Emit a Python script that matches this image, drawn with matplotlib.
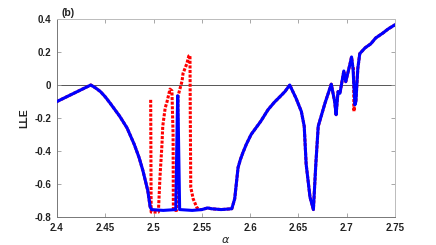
import numpy as np
import matplotlib
matplotlib.use("Agg")
import matplotlib.pyplot as plt

# curva azul (LLE)
alpha_azul = [2.400, 2.435, 2.440, 2.445, 2.450, 2.455, 2.460, 2.465, 2.4725, 2.480,
              2.485, 2.489, 2.4915, 2.494, 2.4965,
              2.498, 2.510, 2.523, 2.5245, 2.525, 2.5255, 2.527, 2.540, 2.550, 2.556,
              2.560, 2.570, 2.581, 2.584, 2.5875, 2.590, 2.5925, 2.596, 2.601, 2.606,
              2.611, 2.6185, 2.625, 2.631, 2.636,
              2.641, 2.6475, 2.653, 2.656, 2.658, 2.662, 2.6655, 2.668, 2.6705, 2.6775,
              2.684, 2.6875, 2.689, 2.691, 2.693, 2.697, 2.699, 2.7035, 2.705, 2.7065,
              2.7085, 2.7095, 2.7115, 2.7135, 2.719, 2.725, 2.730, 2.7375, 2.743, 2.750]
lle_azul = [-0.100, 0.000, -0.018, -0.040, -0.072, -0.110, -0.150, -0.190, -0.260, -0.360,
            -0.440, -0.520, -0.580, -0.640, -0.740,
            -0.755, -0.760, -0.755, -0.200, -0.065, -0.200, -0.755, -0.760, -0.755, -0.745,
            -0.750, -0.755, -0.750, -0.690, -0.500, -0.450, -0.410, -0.360, -0.300, -0.260,
            -0.220, -0.150, -0.105, -0.070, -0.040,
            0.000, -0.080, -0.160, -0.250, -0.480, -0.680, -0.755, -0.480, -0.250, -0.110,
            0.005, -0.100, -0.180, -0.040, -0.050, 0.085, 0.020, 0.130, 0.170, 0.100,
            -0.120, -0.100, 0.100, 0.190, 0.225, 0.250, 0.285, 0.315, 0.340, 0.365]

# tramos donde la curva roja se separa de la azul (nan = corte de linea)
alpha_rojo_medio = [np.nan, 2.497, 2.4975, 2.505, 2.5066, 2.5087, 2.5095, 2.512, 2.514, 2.517,
                    2.519, 2.5202, 2.5205, 2.524, 2.5253, 2.5295, 2.5305, 2.5325, 2.5345,
                    2.5365, 2.5377, 2.538, 2.5385, 2.541, 2.545, 2.548]
lle_rojo_medio = [np.nan, -0.090, -0.770, -0.770, -0.560, -0.360, -0.250, -0.140, -0.100,
                  -0.025, -0.035, -0.300, -0.760, -0.760, -0.067, 0.024, 0.070, 0.100,
                  0.130, 0.176, 0.180, -0.160, -0.620, -0.690, -0.745, -0.755]
alpha_rojo_pico = [2.707, 2.7075, 2.708]
lle_rojo_pico = [0.100, -0.160, -0.110]

xticks = [2.4, 2.45, 2.5, 2.55, 2.6, 2.65, 2.7, 2.75]
xtick_labels = ["2.4", "2.45", "2.5", "2.55", "2.6", "2.65", "2.7", "2.75"]
yticks = [-0.8, -0.6, -0.4, -0.2, 0, 0.2, 0.4]
ytick_labels = ["-0.8", "-0.6", "-0.4", "-0.2", "0", "0.2", "0.4"]

# armar la curva roja: igual a la azul fuera de los tramos distintos
a_az = np.array(alpha_azul)
l_az = np.array(lle_azul)
m1 = a_az <= 2.4965
m2 = (a_az > 2.548) & (a_az <= 2.7065)
m3 = a_az >= 2.7095
alpha_rojo = np.concatenate([a_az[m1], alpha_rojo_medio, a_az[m2], alpha_rojo_pico, a_az[m3]])
lle_rojo = np.concatenate([l_az[m1], lle_rojo_medio, l_az[m2], lle_rojo_pico, l_az[m3]])

plt.rcParams["font.family"] = ["Liberation Sans", "DejaVu Sans"]

fig = plt.figure(figsize=(4.36, 2.45), dpi=100)
ax = fig.add_axes([57 / 436, 1 - 217 / 245, 338 / 436, 198 / 245])

ax.axhline(0, color="#555555", linewidth=0.7, zorder=1)
ax.plot(alpha_rojo, lle_rojo, color="#ff0000", linewidth=2.2,
        linestyle=(0, (1, 0.5)), dash_capstyle="butt", zorder=2)
ax.plot(alpha_azul, lle_azul, color="#0000ff", linewidth=2.2, zorder=3)

ax.set_xlim(2.4, 2.75)
ax.set_ylim(-0.8, 0.4)
ax.set_xticks(xticks)
ax.set_xticklabels(xtick_labels)
ax.set_yticks(yticks)
ax.set_yticklabels(ytick_labels)
ax.tick_params(direction="in", length=3, width=0.6, top=True, right=True,
               labelsize=7, pad=4, colors="#999999", labelcolor="#222222")
for lab in ax.get_xticklabels() + ax.get_yticklabels():
    lab.set_fontweight("bold")

for lado in ["left", "bottom"]:
    ax.spines[lado].set_color("#777777")
    ax.spines[lado].set_linewidth(0.7)
for lado in ["top", "right"]:
    ax.spines[lado].set_color("#bbbbbb")
    ax.spines[lado].set_linewidth(0.7)

ax.set_ylabel("LLE", fontsize=7.5, fontweight="bold", color="#222222", labelpad=4)
ax.set_xlabel(r"$\alpha$", fontsize=8, color="#222222", labelpad=2)
fig.text(61 / 436, 1 - 18 / 245, "(b)", fontsize=7.5, fontweight="bold",
         color="#222222", va="bottom", ha="left")

fig.savefig("out.png", dpi=100)
